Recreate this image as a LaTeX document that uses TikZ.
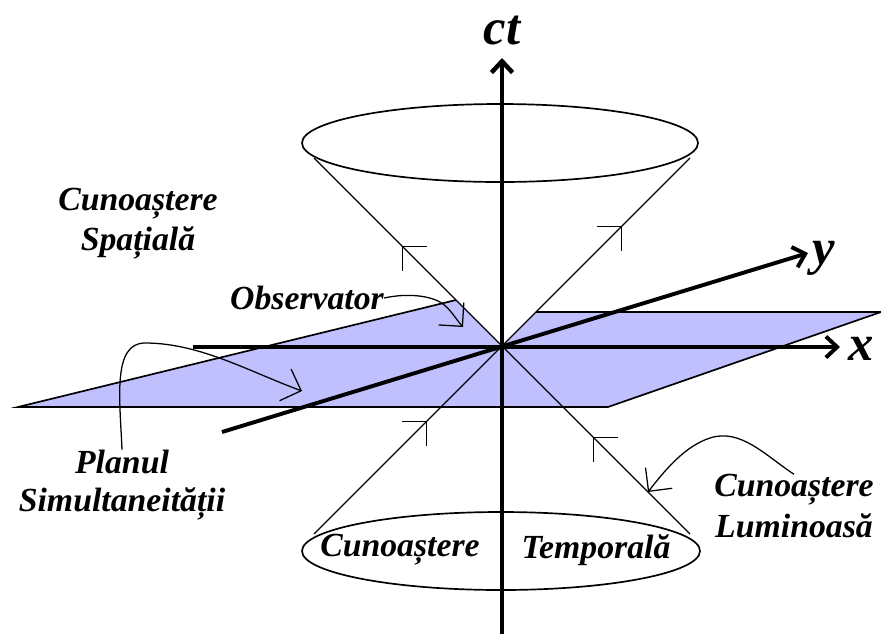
\documentclass[tikz,border=0pt]{standalone}
\usepackage{fontspec}
\setmainfont{Liberation Serif}
\usepackage{tikz}
\usetikzlibrary{arrows.meta,decorations.markings}
\definecolor{planeblue}{RGB}{192,192,255}

\begin{document}
\begin{tikzpicture}[x=0.025cm,y=-0.025cm,
    lbl/.style={font=\fontsize{24}{28.5}\selectfont\bfseries\itshape,inner sep=0pt,align=center},
    axlbl/.style={font=\fontsize{36}{40}\selectfont\bfseries\itshape,inner sep=0pt},
    axis/.style={line width=2.8pt,-{Straight Barb[length=8pt,width=15pt]}},
    cone/.style={line width=0.9pt},
    pointer/.style={line width=0.9pt,-{Straight Barb[length=12pt,width=24pt]}},
    uparrows/.style 2 args={postaction={decorate},decoration={markings,
        mark=at position #1 with {\arrow[line width=0.9pt]{Straight Barb[length=12pt,width=24pt]}},
        mark=at position #2 with {\arrow[line width=0.9pt]{Straight Barb[length=12pt,width=24pt]}}}}]
    \useasboundingbox (0,0) rectangle (881,634);
    % points of the picture
    \coordinate (O) at (502,346);
    \coordinate (tl) at (314,158);
    \coordinate (tr) at (690,158);
    \coordinate (bl) at (314,534);
    \coordinate (br) at (690,534);
    % plane of simultaneity
    \fill[planeblue] (18,407) -- (456,300) -- (O) -- (536,312) -- (881,312) -- (608,407) -- cycle;
    \draw[line width=1.2pt] (456,300) -- (18,407) -- (608,407) -- (881,312) -- (536,312);
    % light cone
    \draw[line width=1.2pt] (500,143) ellipse [x radius=198,y radius=39];
    \draw[line width=1.2pt] (501,551) ellipse [x radius=199,y radius=39];
    \draw[cone,uparrows={0.258}{0.766}] (br) -- (tl);
    \draw[cone,uparrows={0.30}{0.819}] (bl) -- (tr);
    % axes
    \coordinate (ctbot) at (502,634);
    \coordinate (cttop) at (502,58);
    \coordinate (xbeg) at (193,347);
    \coordinate (xend) at (840,347);
    \coordinate (ybeg) at (222,432);
    \coordinate (yend) at (808,253);
    \draw[axis] (xbeg) -- (xend);
    \draw[axis] (ybeg) -- (yend);
    \draw[axis,line width=3.2pt] (ctbot) -- (cttop);
    \node[axlbl] (ctlbl) at (502,30) {ct};
    \node[axlbl] (xlbl) at (861,349) {x};
    \node[axlbl] (ylbl) at (824,258) {y};
    % labels
    \node[lbl] (spat) at (138,224) {Cunoaștere\\Spațială};
    \node[lbl] (obs) at (307,298) {Observator};
    \node[lbl,font=\fontsize{24}{27}\selectfont\bfseries\itshape] (plan) at (122,485) {Planul\\Simultaneității};
    \node[lbl] (tcun) at (400,550) {Cunoaștere};
    \node[lbl] (ttemp) at (596,550) {Temporală};
    \node[lbl] (lum) at (794,506) {Cunoaștere\\Luminoasă};
    % pointers
    \coordinate (obstip) at (463,327);
    \coordinate (plantip) at (302,391);
    \coordinate (lumtip) at (648,492);
    \draw[pointer] (obs.east) .. controls (402,294) and (425,294) .. (440,302) .. controls (450,308) and (455,318) .. (obstip);
    \draw[pointer] (plan.north) .. controls (120,400) and (112,343) .. (145,343) .. controls (200,343) and (250,372) .. (plantip);
    \draw[pointer] (lum.north) .. controls (765,455) and (740,428) .. (710,438) .. controls (685,446) and (665,470) .. (lumtip);
\end{tikzpicture}
\end{document}
